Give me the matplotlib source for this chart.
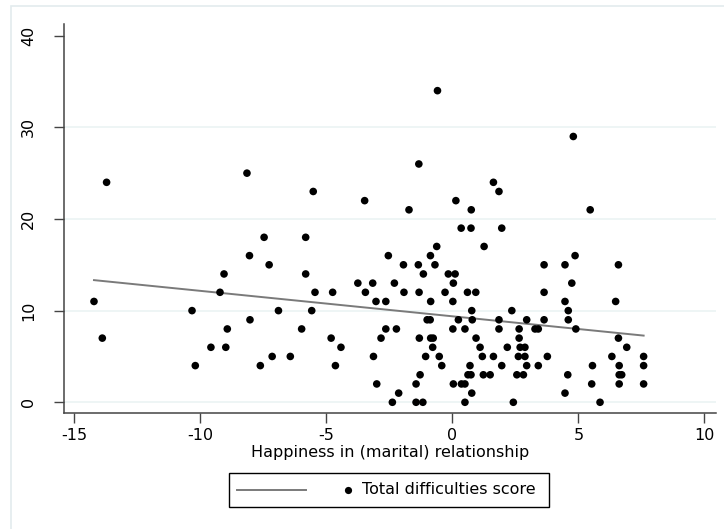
import numpy as np
import matplotlib.pyplot as plt
from matplotlib.lines import Line2D
from matplotlib.patches import Rectangle

# happiness in relationship (x) and total difficulties score (y)
happiness = [
    -0.59, 4.80, -1.33, -8.15, -13.72, 1.63, -5.52, 1.85, -3.48, 0.14,
    -1.72, 0.75, 5.47, 0.35, 0.74, 1.96, -7.47, -5.82, -0.62, 1.26,
    -8.05, -2.54, -0.87, 4.87,
    -7.27, -1.94, -1.35, -0.69, 3.64, 4.47, 6.59,
    -9.06, -5.82, -1.15, -0.16, 0.11,
    -3.75, -3.16, -2.30, 0.04, 4.74,
    -9.22, -5.45, -4.75, -3.45, -1.92, -1.32, -0.29, 0.60, 0.93, 3.64,
    -14.22, -3.03, -2.64, -0.86, 0.02, 4.47, 6.48,
    -10.33, -6.90, -5.58, 0.77, 2.36, 4.60,
    -8.03, -1.00, -0.88, 0.24, 0.79, 1.85, 2.95, 3.64, 4.60,
    -8.93, -5.98, -2.64, -2.22, 0.02, 0.50, 1.85, 2.65, 3.28, 3.41, 4.90,
    -13.89, -4.81, -2.83, -1.31, -0.86, -0.76, 0.94, 2.65, 6.59,
    -9.58, -8.99, -4.42, -0.78, 1.10, 2.18, 2.69, 2.88, 6.92,
    -7.15, -6.43, -3.13, -1.06, -0.52, 1.19, 1.63, 2.62, 2.88, 3.77, 6.33, 7.59,
    -10.20, -7.62, -4.64, -0.42, 0.70, 1.96, 2.95, 3.41, 5.56, 6.62, 7.59,
    -1.28, 0.62, 0.74, 1.23, 1.50, 2.56, 2.82, 4.58, 6.62, 6.72,
    -3.00, -1.44, 0.04, 0.36, 0.50, 5.53, 6.62, 7.59,
    -2.13, 0.77, 4.47,
    -2.38, -1.44, -1.17, 0.50, 2.42, 5.86,
]
difficulties = (
    [34, 29, 26, 25, 24, 24, 23, 23, 22, 22, 21, 21, 21, 19, 19, 19, 18, 18, 17, 17]
    + [16] * 4 + [15] * 7 + [14] * 5 + [13] * 5 + [12] * 10 + [11] * 7
    + [10] * 6 + [9] * 9 + [8] * 11 + [7] * 9 + [6] * 9 + [5] * 12
    + [4] * 11 + [3] * 10 + [2] * 8 + [1] * 3 + [0] * 6
)

x_ticks = [-15, -10, -5, 0, 5, 10]
y_ticks = [0, 10, 20, 30, 40]
x_label = "Happiness in (marital) relationship"
legend_label = "Total difficulties score"

x = np.array(happiness)
y = np.array(difficulties)

# linear fit, drawn over the observed x range
slope, intercept = np.polyfit(x, y, 1)
x_fit = np.array([x.min(), x.max()])
y_fit = intercept + slope * x_fit

plt.rcParams['font.family'] = ['DejaVu Sans']
plt.rcParams['axes.unicode_minus'] = False

W, H = 724, 529
fig = plt.figure(figsize=(W / 100, H / 100), dpi=100)

# outer graph frame
fig.patches.append(Rectangle((11 / W, -0.01), 1.0, 1 - 6 / H + 0.01, transform=fig.transFigure,
                             fill=False, edgecolor='#e3ebee', lw=1.2))

ax = fig.add_axes([64 / W, 1 - 413 / H, (715.7 - 64) / W, (413 - 24.3) / H])
ax.set_xlim(-15.41, 10.45)
ax.set_ylim(-1.17, 41.24)

for g in y_ticks[:-1]:
    ax.axhline(g, color='#eaf2f3', lw=1.1, zorder=0)

ax.plot(x_fit, y_fit, color='#7a7a7a', lw=1.4, zorder=2)
ax.scatter(x, y, s=30, color='black', edgecolors='none', zorder=3)

ax.set_xticks(x_ticks)
ax.set_yticks(y_ticks)
ax.tick_params(axis='both', labelsize=11.5, length=7, width=1, color='#444444')
ax.tick_params(axis='x', pad=4)
ax.tick_params(axis='y', pad=13)
for lab in ax.get_yticklabels():
    lab.set_rotation(90)
    lab.set_va('center')
ax.set_xlabel(x_label, fontsize=11.5, labelpad=1)

for side in ['top', 'right']:
    ax.spines[side].set_visible(False)
for side in ['left', 'bottom']:
    ax.spines[side].set_color('#444444')
    ax.spines[side].set_linewidth(1.1)

# legend box drawn by hand to follow the Stata key layout
fig.patches.append(Rectangle((229.3 / W, 1 - 507.3 / H), 320 / W, 34.6 / H,
                             transform=fig.transFigure, fill=False, edgecolor='black', lw=1))
ly = 1 - 490 / H
fig.lines.append(Line2D([237 / W, 306 / W], [ly, ly], transform=fig.transFigure,
                        color='#7a7a7a', lw=1.4))
fig.lines.append(Line2D([347.7 / W], [ly], transform=fig.transFigure, marker='o',
                        markersize=5.2, color='black', markeredgewidth=0))
fig.text(361.7 / W, ly, legend_label, fontsize=11.5, va='center', ha='left')

fig.savefig('out.png', dpi=100)
